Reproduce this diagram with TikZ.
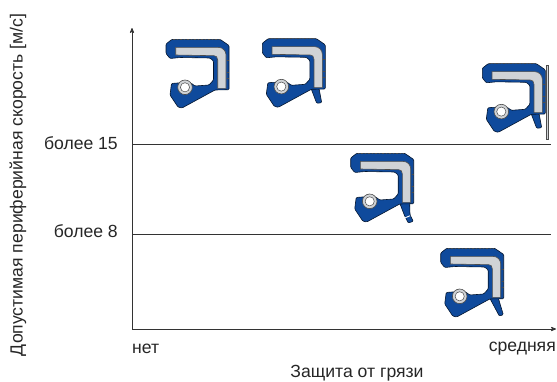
\documentclass[tikz,border=0pt]{standalone}
\usepackage{fontspec}
\setmainfont{Liberation Sans}
\usetikzlibrary{arrows}
\definecolor{sealblue}{HTML}{0F4A9C}
\definecolor{metalgray}{HTML}{D0D3D6}
\definecolor{linedark}{HTML}{333333}
\tikzset{
  axisline/.style={linedark, thick, ->, >=stealth'},
  levelline/.style={linedark, line width=.8pt},
  lbl/.style={font=\fontsize{17.6}{20}\selectfont, text=black!85, inner sep=0},
  sealbody/.style={fill=sealblue, draw=black!70!sealblue, line width=.6pt, line join=round, rounded corners=1pt},
  sealmetal/.style={fill=metalgray, draw=black!70, line width=.6pt},
  pics/seal/.style={code={
    #1
    \draw[sealbody] (11,14) -- (17,9.3) -- (65,9.3) -- (74,15.5) -- (74,59.7) -- (60,60)
      -- (27,78) -- (23,77) -- (15,65) -- (16.5,53.5) -- (22,53) -- (36,53) -- (40,56) -- (54,55)
      -- (58.5,50) -- (58.5,31) -- (55,28) -- (25,27.5) -- (15,28.5) -- (11,23.5) -- cycle;
    \draw[sealmetal] (20.7,17.3) -- (63,17.3) .. controls (68,17.3) and (71,21) .. (71,25) -- (71,58.3) -- (62.7,58.3)
      -- (62.7,30) .. controls (62.7,27) and (61,25.7) .. (59,25.7) -- (20.7,25) -- cycle;
    \draw[sealmetal] (30,57.3) circle (7.3);
    \draw[fill=white, draw=black!70, line width=.5pt] (30,57.3) circle (4.6);
    \draw[black!70, line width=.5pt, dash pattern=on 1.5pt off 2pt] (18,9.3) -- (64,9.3);
    \foreach \y in {30,42,48} {
      \draw[black!70, line width=.4pt] (72,\y) -- (74,\y);
    }
  }},
}
\begin{document}
\begin{tikzpicture}[x=1pt, y=-1pt]
\useasboundingbox (0,0) rectangle (557,381);
\coordinate (origin) at (132,329);
\coordinate (ytip) at (132,28);
\coordinate (xtip) at (556,329);
\coordinate (high) at (132,144);
\coordinate (highend) at (551,144);
\coordinate (mid) at (132,234);
\coordinate (midend) at (551,234);
\draw[axisline] (origin) -- (ytip);
\draw[axisline] (origin) -- (xtip);
\draw[levelline] (high) -- (highend);
\draw[levelline] (mid) -- (midend);
\node[lbl, anchor=east] (speedhigh) at (118,143) {более 15};
\node[lbl, anchor=east] (speedmid) at (118,231) {более 8};
\node[lbl, anchor=west] (dirtnone) at (132,349) {нет};
\node[lbl, anchor=east] (dirtmid) at (556,349) {средняя};
\node[lbl] (dirtaxis) at (357,373) {Защита от грязи};
\node[lbl, rotate=90] (speedaxis) at (18,185) {Допустимая периферийная скорость [м/с]};
\pic (sealone) at (155,30) {seal={}};
\pic (sealtwo) at (251.3,29.3) {seal={\draw[sealbody] (59.7,59) -- (65.4,74) -- (70.4,73.4) -- (67.7,59) -- cycle;}};
\pic (sealthree) at (471.3,54.3) {seal={\draw[sealbody] (59.7,59) -- (65.4,74) -- (70.4,73.4) -- (67.7,59) -- cycle;}};
\pic (sealfour) at (339.7,144) {seal={\draw[sealbody] (60,59) -- (65,72) -- (68.6,79) -- (73.6,77.3) -- (70.3,70.7) -- (70,59) -- cycle; \draw[white, line width=.9pt] (65,74) -- (70.5,71.7);}};
\pic (sealfive) at (429.7,239) {seal={\draw[sealbody] (60,59) -- (69.6,77) -- (73.6,75.7) -- (68.6,59) -- cycle;}};
\draw[sealmetal] (546,65) rectangle (548.5,139);
\end{tikzpicture}
\end{document}
